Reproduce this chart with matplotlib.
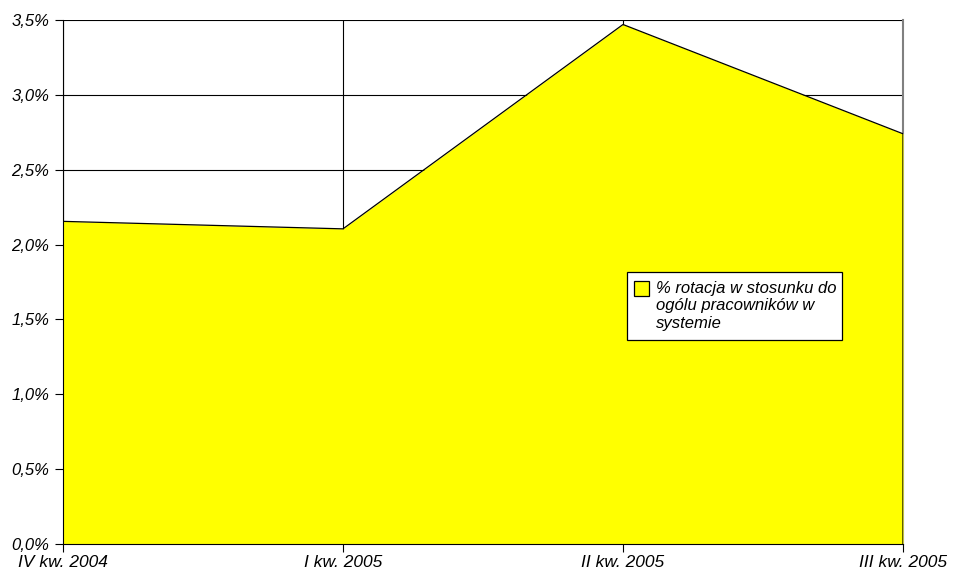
import matplotlib.pyplot as plt
from matplotlib.patches import Rectangle
from matplotlib.ticker import FuncFormatter

quarters = ['IV kw. 2004', 'I kw. 2005', 'II kw. 2005', 'III kw. 2005']
rotation_pct = [2.155, 2.105, 3.47, 2.74]
series_label = '% rotacja w stosunku do\nogólu pracowników w\nsystemie'

plt.rcParams['font.family'] = ['Liberation Sans', 'DejaVu Sans']
plt.rcParams['font.style'] = 'italic'

W, H = 957, 572
fig = plt.figure(figsize=(W / 100, H / 100), dpi=100)
ax = fig.add_axes([63 / W, 28 / H, 840 / W, 524 / H])

x = list(range(len(quarters)))
ax.fill_between(x, rotation_pct, 0, color='#FFFF00', lw=0, zorder=3)
ax.plot(x + [x[-1]], rotation_pct + [0], color='black', lw=0.9, zorder=4)

ax.set_xlim(0, len(quarters) - 1)
ax.set_ylim(0, 3.5)
ax.set_yticks([i * 0.5 for i in range(8)])
ax.yaxis.set_major_formatter(FuncFormatter(lambda v, p: f'{v:.1f}%'.replace('.', ',')))
ax.set_xticks(x)
ax.set_xticklabels(quarters)

ax.grid(True, color='black', lw=0.8, zorder=1)
ax.axvline(x[-1], color='#808080', lw=1.5, zorder=2, clip_on=False)
ax.tick_params(axis='both', direction='out', length=6, width=0.8, colors='black')
ax.tick_params(axis='x', labelsize=12.5, pad=2)
ax.tick_params(axis='y', labelsize=12, pad=4)
for side in ['top', 'right']:
    ax.spines[side].set_visible(False)
ax.spines['left'].set_zorder(5)
ax.spines['bottom'].set_zorder(5)

# legend box drawn by hand so the key sits beside the first line
fig.patches.append(Rectangle((627 / W, 1 - 340 / H), 215 / W, 68 / H,
                             transform=fig.transFigure, facecolor='white',
                             edgecolor='black', lw=0.9, zorder=10))
fig.patches.append(Rectangle((634 / W, 1 - 296 / H), 15 / W, 15 / H,
                             transform=fig.transFigure, facecolor='#FFFF00',
                             edgecolor='black', lw=0.9, zorder=11))
fig.text(656 / W, 1 - 281 / H, series_label, ha='left', va='top',
         fontsize=12, linespacing=1.2, zorder=12)

fig.savefig('out.png', dpi=100)
